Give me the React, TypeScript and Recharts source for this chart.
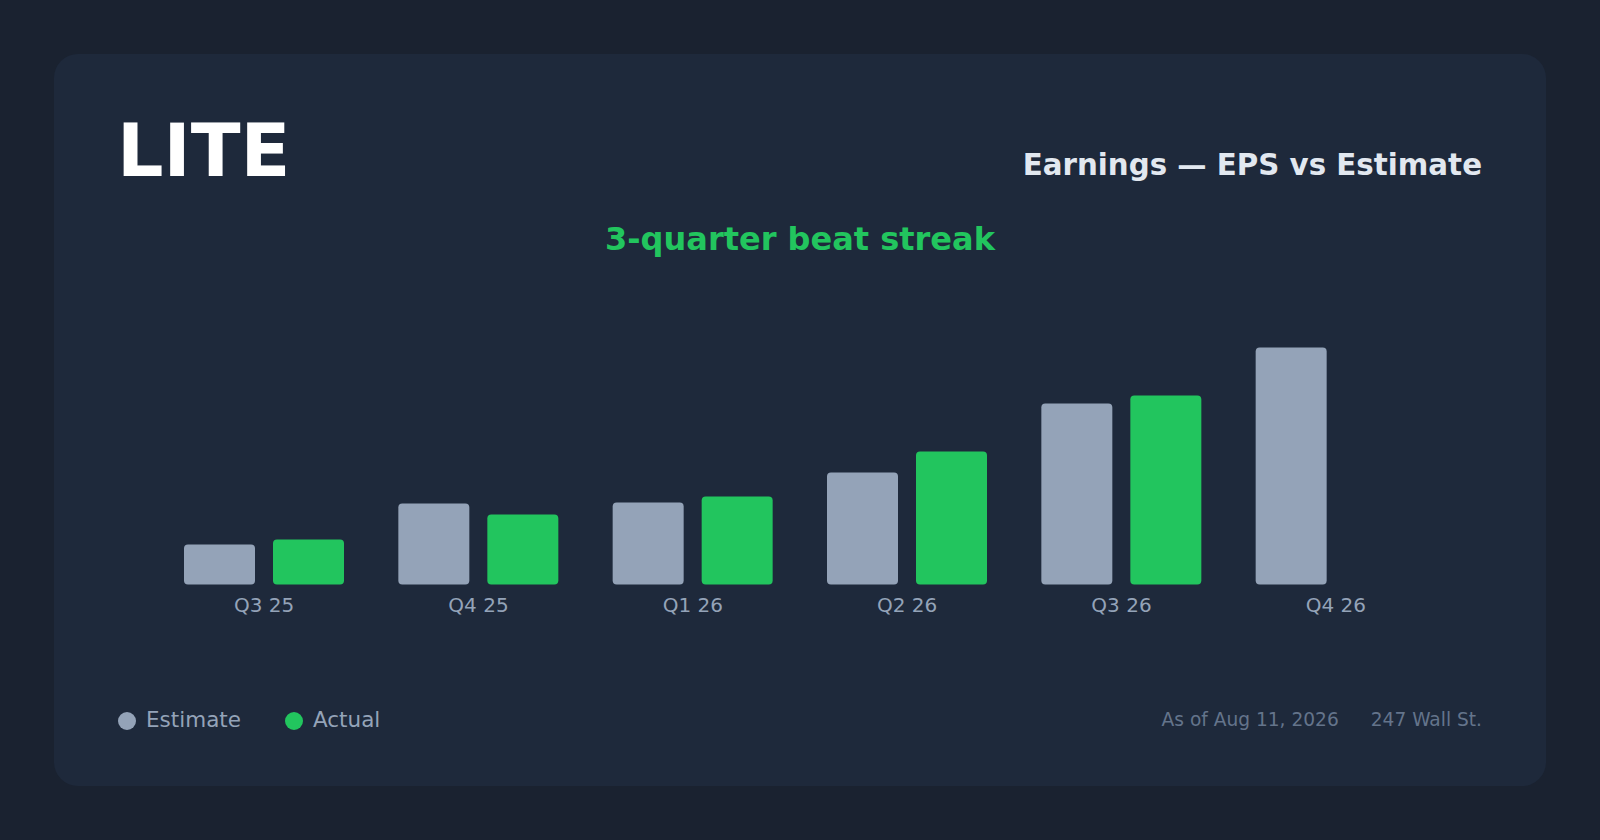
import { BarChart, Bar, XAxis, YAxis } from 'recharts';

const quarters = ['Q3 25', 'Q4 25', 'Q1 26', 'Q2 26', 'Q3 26', 'Q4 26'];
const estimateEps = [0.4, 0.81, 0.82, 1.12, 1.81, 2.37];
const actualEps: (number | null)[] = [0.45, 0.7, 0.88, 1.33, 1.89, null];

const ESTIMATE_COLOR = '#94a3b8';
const ACTUAL_COLOR = '#22c55e';
const CARD_BG = '#1e293b';
const PAGE_BG = '#1a2230';
const FONT = '"DejaVu Sans", Verdana, sans-serif';

const chartData = quarters.map((quarter, i) => ({
  quarter,
  estimate: estimateEps[i],
  actual: actualEps[i],
}));

function LegendDot({ color, label }: { color: string; label: string }) {
  return (
    <span style={{ display: 'flex', alignItems: 'center' }}>
      <span
        style={{
          width: 18,
          height: 18,
          borderRadius: '50%',
          background: color,
          marginRight: 10,
          position: 'relative',
          top: 1.5,
        }}
      />
      <span>{label}</span>
    </span>
  );
}

export default function App() {
  return (
    <div
      style={{
        position: 'absolute',
        left: 0,
        top: 0,
        width: 1600,
        height: 840,
        background: PAGE_BG,
        fontFamily: FONT,
        overflow: 'hidden',
      }}
    >
      <div
        style={{
          position: 'absolute',
          left: 54,
          top: 54,
          width: 1492,
          height: 732,
          borderRadius: 24,
          background: CARD_BG,
        }}
      >
        {/* header */}
        <div
          style={{
            position: 'absolute',
            left: 63,
            top: 60.3,
            fontSize: 73,
            fontWeight: 700,
            lineHeight: 1,
            color: '#ffffff',
            whiteSpace: 'nowrap',
          }}
        >
          LITE
        </div>
        <div
          style={{
            position: 'absolute',
            right: 64,
            top: 97,
            fontSize: 29.3,
            fontWeight: 700,
            lineHeight: 1,
            color: '#e2e8f0',
            whiteSpace: 'nowrap',
          }}
        >
          Earnings — EPS vs Estimate
        </div>
        <div
          style={{
            position: 'absolute',
            left: 0,
            width: 1492,
            top: 168.9,
            textAlign: 'center',
            fontSize: 32,
            fontWeight: 700,
            lineHeight: 1,
            color: ACTUAL_COLOR,
            whiteSpace: 'nowrap',
          }}
        >
          3-quarter beat streak
        </div>

        {/* chart */}
        <div style={{ position: 'absolute', left: 64, top: 246 }}>
          <BarChart
            width={1364}
            height={330}
            data={chartData}
            margin={{ top: 24.5, right: 39, left: 39, bottom: 5.5 }}
            barSize={71}
            barGap={18}
          >
            <XAxis
              dataKey="quarter"
              axisLine={false}
              tickLine={false}
              tickSize={0}
              tickMargin={13}
              height={40}
              interval={0}
              tick={{ fill: ESTIMATE_COLOR, fontSize: 20, fontFamily: FONT }}
            />
            <YAxis hide domain={[0, 2.6]} />
            <Bar dataKey="estimate" fill={ESTIMATE_COLOR} radius={4} isAnimationActive={false} />
            <Bar dataKey="actual" fill={ACTUAL_COLOR} radius={4} isAnimationActive={false} />
          </BarChart>
        </div>

        {/* legend */}
        <div
          style={{
            position: 'absolute',
            left: 64,
            top: 654.6,
            display: 'flex',
            gap: 44,
            fontSize: 21.5,
            lineHeight: 1,
            color: ESTIMATE_COLOR,
            whiteSpace: 'nowrap',
          }}
        >
          <LegendDot color={ESTIMATE_COLOR} label="Estimate" />
          <LegendDot color={ACTUAL_COLOR} label="Actual" />
        </div>

        {/* footer */}
        <div
          style={{
            position: 'absolute',
            right: 64,
            top: 656.5,
            display: 'flex',
            gap: 32,
            fontSize: 18.6,
            lineHeight: 1,
            color: '#64748b',
            whiteSpace: 'nowrap',
          }}
        >
          <span>As of Aug 11, 2026</span>
          <span>247 Wall St.</span>
        </div>
      </div>
    </div>
  );
}
